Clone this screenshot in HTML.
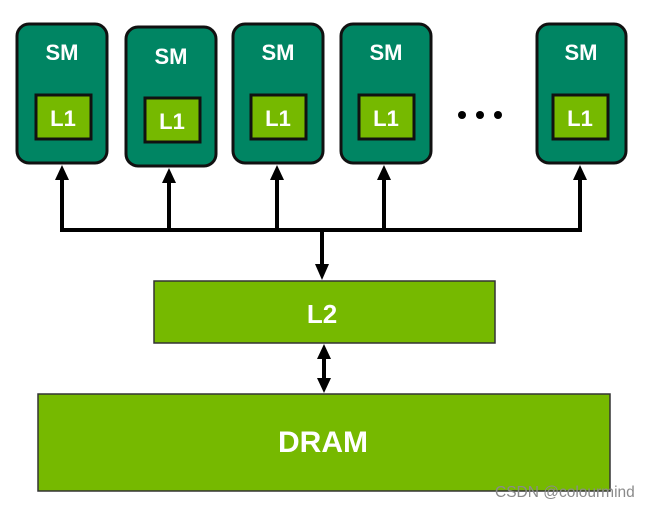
<!DOCTYPE html>
<html><head><meta charset="utf-8"><style>
html,body{margin:0;padding:0;background:#fff;}
svg{display:block;}
text{font-family:"Liberation Sans","DejaVu Sans",sans-serif;font-weight:bold;fill:#fff;}
</style></head><body>
<svg width="649" height="506" viewBox="0 0 649 506" xmlns="http://www.w3.org/2000/svg">
<g stroke="#111" stroke-width="3">
<rect x="17" y="24" width="90" height="139" rx="12" fill="#008563"/>
<rect x="126" y="27" width="90" height="139" rx="12" fill="#008563"/>
<rect x="233" y="24" width="90" height="139" rx="12" fill="#008563"/>
<rect x="341" y="24" width="90" height="139" rx="12" fill="#008563"/>
<rect x="537" y="24" width="89" height="139" rx="12" fill="#008563"/>
<rect x="36" y="95" width="55" height="44" fill="#76b900"/>
<rect x="145" y="98" width="55" height="44" fill="#76b900"/>
<rect x="251" y="95" width="55" height="44" fill="#76b900"/>
<rect x="359" y="95" width="55" height="44" fill="#76b900"/>
<rect x="553" y="95" width="55" height="44" fill="#76b900"/>
</g>
<g font-size="22" text-anchor="middle">
<text x="62" y="60">SM</text>
<text x="171" y="64">SM</text>
<text x="278" y="60">SM</text>
<text x="386" y="60">SM</text>
<text x="581" y="60">SM</text>
<text x="63" y="126">L1</text>
<text x="172" y="129">L1</text>
<text x="278" y="126">L1</text>
<text x="386" y="126">L1</text>
<text x="580" y="126">L1</text>
</g>
<g fill="#000">
<circle cx="462" cy="115" r="4"/><circle cx="480" cy="115" r="4"/><circle cx="498" cy="115" r="4"/>
</g>
<g stroke="#000" stroke-width="4" fill="none">
<polyline points="62,178 62,230 580,230 580,178"/>
<line x1="169" y1="230" x2="169" y2="181"/>
<line x1="277" y1="230" x2="277" y2="178"/>
<line x1="384" y1="230" x2="384" y2="178"/>
<line x1="322" y1="230" x2="322" y2="266"/>
<line x1="324" y1="357" x2="324" y2="380"/>
</g>
<g fill="#000">
<path d="M55,180 L62,165 L69,180 Z"/>
<path d="M162,183 L169,168 L176,183 Z"/>
<path d="M270,180 L277,165 L284,180 Z"/>
<path d="M377,180 L384,165 L391,180 Z"/>
<path d="M573,180 L580,165 L587,180 Z"/>
<path d="M315,264 L322,280 L329,264 Z"/>
<path d="M317,359 L324,344 L331,359 Z"/>
<path d="M317,378 L324,393 L331,378 Z"/>
</g>
<rect x="154" y="281" width="341" height="62" fill="#76b900" stroke="#333" stroke-width="1.5"/>
<rect x="38" y="394" width="572" height="97" fill="#76b900" stroke="#333" stroke-width="1.5"/>
<text x="322" y="323" font-size="26" text-anchor="middle">L2</text>
<text x="323" y="452" font-size="30" text-anchor="middle">DRAM</text>
<text x="495" y="497" font-size="15.5" style="font-weight:normal;fill:#8a8a8a">CSDN @colourmind</text>
</svg>
</body></html>
